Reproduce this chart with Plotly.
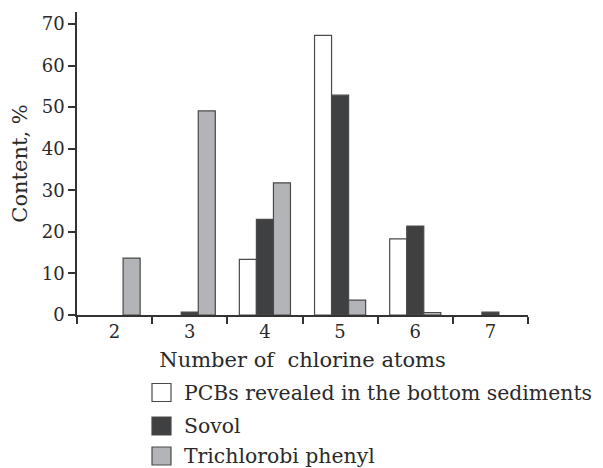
import plotly.graph_objects as go

categories = ["2", "3", "4", "5", "6", "7"]
pcbs_sediments = [0, 0, 13.4, 67.3, 18.3, 0]
sovol = [0, 0.7, 23.0, 52.9, 21.4, 0.7]
trichlorobiphenyl = [13.7, 49.1, 31.8, 3.6, 0.6, 0]
series_names = ["PCBs revealed in the bottom sediments", "Sovol", "Trichlorobi phenyl"]
series_values = [pcbs_sediments, sovol, trichlorobiphenyl]
series_colors = ["#ffffff", "#3f4042", "#b3b4b7"]
y_ticks = [0, 10, 20, 30, 40, 50, 60, 70]

FONT = "DejaVu Serif"
TXT = "#2a2a2a"
OUT = "#4a4a4a"

W, H = 603, 468
L, R, T, B = 77, 75, 12, 153
pw, ph = W - L - R, H - T - B

fig = go.Figure()
for name, vals, col in zip(series_names, series_values, series_colors):
    fig.add_trace(go.Bar(
        x=categories, y=vals, name=name,
        marker=dict(color=col,
                    line=dict(color=OUT, width=[1.2 if v > 0 else 0 for v in vals])),
        showlegend=False,
    ))

# manual legend
leg_y = [392.5, 426, 456]
for (name, col, yy) in zip(series_names, series_colors, leg_y):
    x0 = (152 - L) / pw
    x1 = (171 - L) / pw
    y0 = (H - B - (yy - 9)) / ph
    y1 = (H - B - (yy + 9)) / ph
    fig.add_shape(type="rect", xref="paper", yref="paper",
                  x0=x0, x1=x1, y0=y0, y1=y1,
                  fillcolor=col, line=dict(color=OUT, width=1.2))
    fig.add_annotation(xref="paper", yref="paper",
                       x=(182 - L) / pw, y=(H - B - yy) / ph,
                       xanchor="left", yanchor="middle", showarrow=False,
                       text=name, font=dict(family=FONT, size=20.4, color=TXT))

fig.update_layout(
    width=W, height=H,
    margin=dict(l=L, r=R, t=T, b=B),
    plot_bgcolor="white", paper_bgcolor="white",
    barmode="group", bargap=0.32, bargroupgap=0,
    font=dict(family=FONT, size=18, color=TXT),
    showlegend=False,
)
fig.update_xaxes(
    type="category", range=[-0.5, 5.5],
    showline=True, linecolor="#333", linewidth=1.5,
    ticks="outside", tickson="boundaries", ticklen=7, tickcolor="#333", tickwidth=1.5,
    showgrid=False, zeroline=False,
    tickfont=dict(family=FONT, size=18, color=TXT),
    title=dict(text="Number of&nbsp; chlorine atoms", standoff=11,
               font=dict(family=FONT, size=21, color=TXT)),
)
fig.update_yaxes(
    range=[0, 72.9], tickvals=y_ticks,
    showline=True, linecolor="#333", linewidth=1.5,
    ticks="outside", ticklen=7, tickcolor="#333", tickwidth=1.5,
    showgrid=False, zeroline=False,
    tickfont=dict(family=FONT, size=18, color=TXT),
    title=dict(text="Content, %", standoff=8,
               font=dict(family=FONT, size=21, color=TXT)),
)

fig.write_html("out.html")
